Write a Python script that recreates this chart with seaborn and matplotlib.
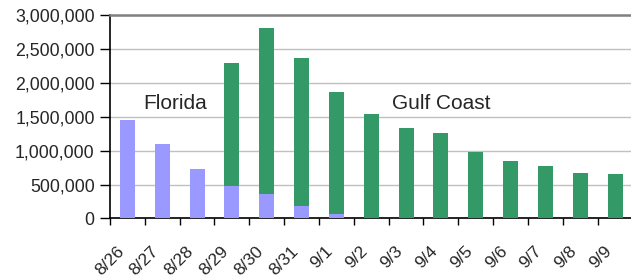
import numpy as np
import pandas as pd
import matplotlib
matplotlib.use("Agg")
import matplotlib.pyplot as plt
import matplotlib.transforms as mtransforms
import seaborn as sns
from matplotlib.ticker import FuncFormatter, FixedLocator

# chart data
dates = ['8/26', '8/27', '8/28', '8/29', '8/30', '8/31', '9/1', '9/2',
         '9/3', '9/4', '9/5', '9/6', '9/7', '9/8', '9/9']
florida = [1450000, 1095000, 735000, 482000, 365000, 185000, 70000, 0,
           0, 0, 0, 0, 0, 0, 0]
gulf_coast = [0, 0, 0, 1818000, 2455000, 2190000, 1798000, 1540000,
              1331000, 1257000, 974000, 854000, 780000, 676000, 661000]

df = pd.DataFrame({'date': dates, 'florida': florida, 'gulf': gulf_coast})

sns.set_style('white')
plt.rcParams['font.family'] = ['Liberation Sans', 'DejaVu Sans']

fig = plt.figure(figsize=(6.31, 2.80), dpi=100)
ax = fig.add_axes([0.1743, 0.220, 0.828, 0.725])

sns.barplot(data=df, x='date', y='florida', color='#9999FF', width=0.43,
            saturation=1, linewidth=0, edgecolor='none', ax=ax, zorder=3)
sns.barplot(data=df, x='date', y='gulf', bottom=df['florida'], color='#339966',
            width=0.43, saturation=1, linewidth=0, edgecolor='none', ax=ax,
            zorder=3)

ax.set_xlim(-0.5, len(dates) - 0.5)
ax.set_ylim(0, 3000000)
ax.set_yticks(np.arange(0, 3000001, 500000))
ax.yaxis.set_major_formatter(FuncFormatter(lambda v, p: f'{int(v):,}'))
ax.grid(axis='y', color='#c0c0c0', lw=1, zorder=0)
ax.set_axisbelow(True)

# labels at the bar centres, tick marks at category boundaries
ax.set_xticks(range(len(dates)))
ax.set_xticklabels(dates, rotation=45, ha='right', rotation_mode='anchor')
ax.xaxis.set_minor_locator(FixedLocator(np.arange(-0.5, len(dates), 1)))
ax.tick_params(axis='x', which='major', length=0, pad=18, labelsize=12.5)
ax.tick_params(axis='x', which='minor', length=5, width=1, color='black',
               direction='out', bottom=True)
ax.tick_params(axis='y', length=7, width=1, color='black', direction='out',
               left=True, labelsize=12.8, pad=4)
shift = mtransforms.ScaledTranslation(-8 / 72, 0, fig.dpi_scale_trans)
for lab in ax.get_xticklabels():
    lab.set_transform(lab.get_transform() + shift)
ax.set_xlabel('')
ax.set_ylabel('')

for s in ['left', 'bottom']:
    ax.spines[s].set_color('black')
    ax.spines[s].set_linewidth(1.2)
ax.spines['top'].set_color('#808080')
ax.spines['top'].set_linewidth(1.8)
ax.spines['right'].set_visible(False)

ax.text(1.37, 1700000, 'Florida', fontsize=15, ha='center', va='center')
ax.text(9.0, 1700000, 'Gulf Coast', fontsize=15, ha='center', va='center')

fig.savefig('out.png', dpi=100)
